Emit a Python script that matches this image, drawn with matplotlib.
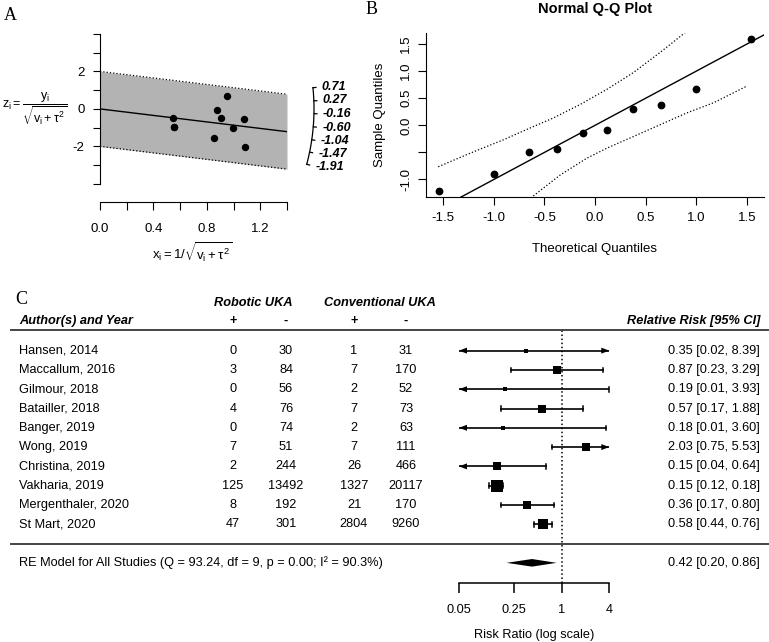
import numpy as np
import matplotlib.pyplot as plt
from matplotlib.transforms import blended_transform_factory
from matplotlib.patches import Polygon

plt.rcParams['font.family'] = 'Liberation Sans'
plt.rcParams['mathtext.fontset'] = 'custom'
plt.rcParams['mathtext.rm'] = 'Liberation Sans'
plt.rcParams['mathtext.it'] = 'Liberation Sans'
plt.rcParams['mathtext.bf'] = 'Liberation Sans:bold'

W, H = 769, 642

# ---- panel A: radial plot
rad_x = [0.543, 0.555, 0.555, 0.855, 0.875, 0.905, 0.95, 0.995, 1.078, 1.085]
rad_z = [-0.50, -0.94, -0.95, -1.57, -0.07, -0.46, 0.68, -1.00, -0.55, -2.05]
rad_est = -0.868          # log(0.42)
arc_vals = [0.71, 0.27, -0.16, -0.60, -1.04, -1.47, -1.91]

# ---- panel B: normal Q-Q
theo_q = [-1.547, -1.0, -0.655, -0.375, -0.123, 0.123, 0.375, 0.655, 1.0, 1.547]
samp_q = [-1.21, -0.90, -0.49, -0.44, -0.15, -0.09, 0.31, 0.38, 0.68, 1.59]
env_up_x = [-1.55, -1.236, -0.907, -0.643, -0.412, -0.148, 0.116, 0.379, 0.643, 0.907]
env_up_y = [-0.765, -0.516, -0.268, -0.05, 0.136, 0.384, 0.663, 0.974, 1.346, 1.737]
env_lo_x = [-0.61, -0.346, -0.082, 0.116, 0.379, 0.643, 0.907, 1.17, 1.50]
env_lo_y = [-1.305, -0.92, -0.609, -0.423, -0.207, 0.011, 0.229, 0.415, 0.724]

# ---- panel C: forest plot
authors = ['Hansen, 2014', 'Maccallum, 2016', 'Gilmour, 2018', 'Batailler, 2018',
           'Banger, 2019', 'Wong, 2019', 'Christina, 2019', 'Vakharia, 2019',
           'Mergenthaler, 2020', 'St Mart, 2020']
rob_pos = [0, 3, 0, 4, 0, 7, 2, 125, 8, 47]
rob_neg = [30, 84, 56, 76, 74, 51, 244, 13492, 192, 301]
con_pos = [1, 7, 2, 7, 2, 7, 26, 1327, 21, 2804]
con_neg = [31, 170, 52, 73, 63, 111, 466, 20117, 170, 9260]
rr = [0.35, 0.87, 0.19, 0.57, 0.18, 2.03, 0.15, 0.15, 0.36, 0.58]
lo = [0.02, 0.23, 0.01, 0.17, 0.01, 0.75, 0.04, 0.12, 0.17, 0.44]
hi = [8.39, 3.29, 3.93, 1.88, 3.60, 5.53, 0.64, 0.18, 0.80, 0.76]
weights = [2.5, 10.0, 3.0, 10.0, 3.3, 10.3, 10.0, 18.0, 11.2, 14.5]
re_est, re_lo, re_hi = 0.42, 0.20, 0.86
re_text = 'RE Model for All Studies (Q = 93.24, df = 9, p = 0.00; I\u00b2 = 90.3%)'
rr_ticks = [0.05, 0.25, 1, 4]


def fx(px):
    return px / W


def fy(py):
    return 1 - py / H


fig = plt.figure(figsize=(W / 100, H / 100), dpi=100)

# ================= A =================
a_l, a_r, a_t, a_b = 100, 287, 34, 202
axA = fig.add_axes([fx(a_l), fy(a_b), (a_r - a_l) / W, (a_b - a_t) / H])
ylo_A = -4.97
axA.set_xlim(0, 1.4)
axA.set_ylim(ylo_A, 4)
xx = np.array([0, 1.4])
axA.fill_between(xx, rad_est * xx - 2, rad_est * xx + 2, color='#b3b3b3', lw=0)
axA.plot(xx, rad_est * xx + 2, 'k:', lw=0.9)
axA.plot(xx, rad_est * xx - 2, 'k:', lw=0.9)
axA.plot(xx, rad_est * xx, 'k-', lw=1)
axA.plot(rad_x, rad_z, 'ko', ms=4.3)
for s in ['top', 'right']:
    axA.spines[s].set_visible(False)
axA.spines['left'].set_bounds(-4, 4)
axA.set_yticks(range(-4, 5))
axA.set_yticklabels(['' if v not in (-2, 0, 2) else str(v) for v in range(-4, 5)])
axA.set_xticks(np.arange(0, 1.41, 0.2))
axA.set_xticklabels(['0.0', '', '0.4', '', '0.8', '', '1.2', ''])
axA.tick_params(axis='y', length=5, pad=6, labelsize=9.5)
axA.tick_params(axis='x', length=6, pad=9, labelsize=9.5)

# arc with slope scale
sx = (a_r - a_l) / 1.4
sy = (a_b - a_t) / (4 - ylo_A)
R = 214
th = np.linspace(min(arc_vals), max(arc_vals), 100)
ang = np.arctan2(sy * th, sx)
axA.plot(R * np.cos(ang) / sx, R * np.sin(ang) / sy, 'k-', lw=0.9, clip_on=False)
for v in arc_vals:
    a = np.arctan2(sy * v, sx)
    axA.plot([R * np.cos(a) / sx, (R + 3) * np.cos(a) / sx],
             [R * np.sin(a) / sy, (R + 3) * np.sin(a) / sy], 'k-', lw=0.9, clip_on=False)
    axA.text((R + 9) * np.cos(a) / sx, (R + 9) * np.sin(a) / sy, '%.2f' % v,
             ha='left', va='center', fontsize=9, fontweight='bold', style='italic')

fig.text(fx(2), fy(109), r'$z_i = \dfrac{y_i}{\sqrt{v_i+\tau^2}}$', ha='left', va='center', fontsize=9)
fig.text(fx(192), fy(252), r'$x_i = 1/\sqrt{v_i+\tau^2}$', ha='center', va='center', fontsize=9.5)
fig.text(fx(10), fy(15), 'A', family='Liberation Serif', fontsize=13, ha='center', va='center')

# ================= B =================
b_l, b_r, b_t, b_b = 426, 764, 33, 197
axB = fig.add_axes([fx(b_l), fy(b_b), (b_r - b_l) / W, (b_b - b_t) / H])
axB.set_xlim(-1.671, 1.671)
axB.set_ylim(-1.324, 1.706)
axB.plot([-2, 2], [-2, 2], 'k-', lw=1)
axB.plot(env_up_x, env_up_y, 'k:', lw=0.9)
axB.plot(env_lo_x, env_lo_y, 'k:', lw=0.9)
axB.plot(theo_q, samp_q, 'ko', ms=4.6)
for s in ['top', 'right']:
    axB.spines[s].set_visible(False)
axB.set_xticks([-1.5, -1.0, -0.5, 0.0, 0.5, 1.0, 1.5])
axB.set_xticklabels(['-1.5', '-1.0', '-0.5', '0.0', '0.5', '1.0', '1.5'])
axB.set_yticks([-1.0, -0.5, 0.0, 0.5, 1.0, 1.5])
axB.set_yticklabels(['-1.0', '', '0.0', '0.5', '1.0', '1.5'], rotation=90, va='center')
axB.tick_params(length=6, labelsize=9.5)
axB.tick_params(axis='x', pad=5)
axB.tick_params(axis='y', pad=4)
axB.set_title('Normal Q-Q Plot', fontsize=10.5, fontweight='bold', pad=14.5)
axB.set_xlabel('Theoretical Quantiles', fontsize=9.5)
axB.xaxis.set_label_coords(0.5, -(243 - b_b) / (b_b - b_t))
axB.set_ylabel('Sample Quantiles', fontsize=9.5)
axB.yaxis.set_label_coords(-(b_l - 386) / (b_r - b_l), 0.5)
fig.text(fx(372), fy(10), 'B', family='Liberation Serif', fontsize=13, ha='center', va='center')

# ================= C =================
c_l, c_r, c_t, c_b = 459, 609.3, 330, 582.7
axC = fig.add_axes([fx(c_l), fy(c_b), (c_r - c_l) / W, (c_b - c_t) / H])
xmin, xmax = np.log(0.05), np.log(4)
ytop, ybot = 11.07, -2.03
axC.set_xlim(xmin, xmax)
axC.set_ylim(ybot, ytop)
for s in ['top', 'right', 'left']:
    axC.spines[s].set_visible(False)
axC.spines['bottom'].set_linewidth(1.1)
axC.set_yticks([])
axC.set_xticks(np.log(rr_ticks))
axC.set_xticklabels(['%g' % t for t in rr_ticks])
axC.tick_params(axis='x', length=7, width=1.1, pad=8, labelsize=9.2)
axC.set_xlabel('Risk Ratio (log scale)', fontsize=9.2, labelpad=10)
axC.axvline(0, color='k', ls=':', lw=1.1)

ppx = (c_r - c_l) / (xmax - xmin)     # pixels per log unit
ppy = (c_b - c_t) / (ytop - ybot)     # pixels per row
aw, ah = 8 / ppx, 3.0 / ppy           # arrow head size
cap = 2.3 / ppy
nk = len(authors)
wmin, wmax = min(weights), max(weights)
for i in range(nk):
    row = nk - i
    l, h, e = np.log(lo[i]), np.log(hi[i]), np.log(rr[i])
    axC.plot([max(l, xmin), min(h, xmax)], [row, row], 'k-', lw=1.2)
    if l < xmin:
        axC.add_patch(Polygon([[xmin, row], [xmin + aw, row + ah], [xmin + aw, row - ah]],
                              closed=True, color='k', lw=0))
    else:
        axC.plot([l, l], [row - cap, row + cap], 'k-', lw=1.1)
    if h > xmax:
        axC.add_patch(Polygon([[xmax, row], [xmax - aw, row + ah], [xmax - aw, row - ah]],
                              closed=True, color='k', lw=0, clip_on=False))
    else:
        axC.plot([h, h], [row - cap, row + cap], 'k-', lw=1.1, clip_on=False)
    sz = 3.2 + (weights[i] - wmin) / (wmax - wmin) * 9.0
    axC.plot(e, row, 's', color='k', ms=sz * 0.72, mew=0)

dh = 3.8 / ppy
axC.add_patch(Polygon([[np.log(re_lo), -1], [np.log(re_est), -1 + dh],
                       [np.log(re_hi), -1], [np.log(re_est), -1 - dh]], closed=True, color='k', lw=0))

bt = blended_transform_factory(fig.transFigure, axC.transData)
fs = 9.2
for i in range(nk):
    row = nk - i
    axC.text(fx(19), row, authors[i], transform=bt, ha='left', va='center', fontsize=fs)
    axC.text(fx(233), row, str(rob_pos[i]), transform=bt, ha='center', va='center', fontsize=fs)
    axC.text(fx(286), row, str(rob_neg[i]), transform=bt, ha='center', va='center', fontsize=fs)
    axC.text(fx(354), row, str(con_pos[i]), transform=bt, ha='center', va='center', fontsize=fs)
    axC.text(fx(406), row, str(con_neg[i]), transform=bt, ha='center', va='center', fontsize=fs)
    axC.text(fx(760), row, '%.2f [%.2f, %.2f]' % (rr[i], lo[i], hi[i]), transform=bt,
             ha='right', va='center', fontsize=fs)

axC.text(fx(19), -1, re_text, transform=bt, ha='left', va='center', fontsize=fs)
axC.text(fx(760), -1, '%.2f [%.2f, %.2f]' % (re_est, re_lo, re_hi), transform=bt,
         ha='right', va='center', fontsize=fs)

hdr = 11.55
bi = dict(transform=bt, va='center', fontsize=fs, fontweight='bold', style='italic')
axC.text(fx(19), hdr, 'Author(s) and Year', ha='left', **bi)
axC.text(fx(253), 12.49, 'Robotic UKA', ha='center', **bi)
axC.text(fx(380), 12.49, 'Conventional UKA', ha='center', **bi)
axC.text(fx(760), hdr, 'Relative Risk [95% CI]', ha='right', **bi)
for xp, sgn in [(233, '+'), (286, '-'), (354, '+'), (406, '-')]:
    axC.text(fx(xp), hdr, sgn, transform=bt, ha='center', va='center', fontsize=fs, fontweight='bold')

for yl in [ytop, 0.0]:
    axC.plot([fx(11), fx(768)], [yl, yl], color='#444444', lw=1.4, transform=bt, clip_on=False)

fig.text(fx(21), fy(299), 'C', family='Liberation Serif', fontsize=13, ha='center', va='center')

fig.savefig('out.png', dpi=100)
